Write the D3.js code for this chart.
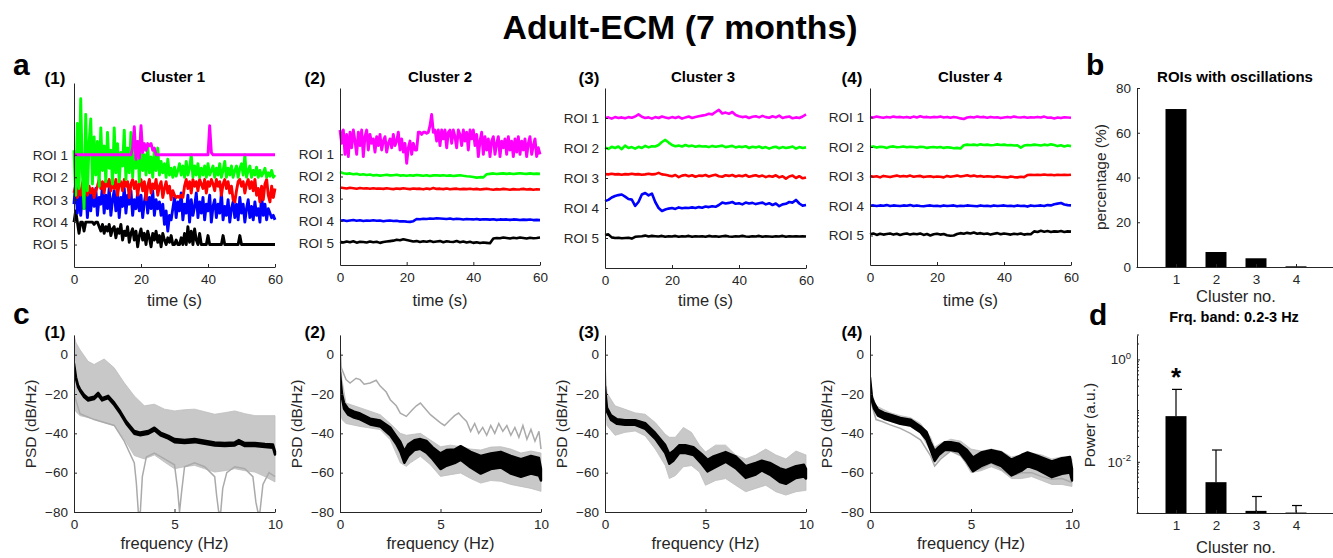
<!DOCTYPE html>
<html><head><meta charset="utf-8">
<script src="https://cdn.jsdelivr.net/npm/d3@7"></script>
<style>body{margin:0;background:#fff}svg{display:block}</style>
</head><body><svg id="fig" width="1333" height="558"></svg>
<script>
// ---------------- DATA ----------------
const roiLabels = ["ROI 1","ROI 2","ROI 3","ROI 4","ROI 5"];
const aTimeTicks = [0,20,40,60];
const cFreqTicks = [0,5,10];
const cPsdTicks = [-80,-60,-40,-20,0];
const clusterNames = ["Cluster 1","Cluster 2","Cluster 3","Cluster 4"];

// Panel a(1) traces, offset from each ROI row (row units), 0.5 s sampling
const a1Roi1 = [
0,0,0,0,0,0,0,0,0,0,
0,0,0,0,0,0,0,0,0,0,
0,0,0,0,0,0,0,0,0,0,
0,0,0,0,0,0.3,1.25,-0.2,0.6,-0.15,
1.3,0.1,0.5,0.2,0.5,0.4,0.5,0.2,0.3,0,
0,0,0,0,0,0,0,0,0,0,
0,0,0,0,0,0,0,0,0,0,
0,0,0,0,0,0,0,0,0,0,
0,1.3,0.1,0,0,0,0,0,0,0,
0,0,0,0,0,0,0,0,0,0,
0,0,0,0,0,0,0,0,0,0,
0,0,0,0,0,0,0,0,0,0,
0];
const a1Roi2 = [
1.2,-0.8,2.4,-0.5,3.5,0.2,-1.4,2.8,-0.6,1.5,
2.6,-0.3,1.8,0.1,1.6,-0.4,2.2,0.3,1.4,-0.2,
2.0,0.4,1.2,-0.3,2.2,0.2,1.5,-0.2,1.1,0.5,
2.1,-0.1,1.3,0.2,2.0,0.0,1.2,0.4,1.6,-0.2,
2.0,0.3,1.0,0.1,1.4,0.2,0.9,0.0,1.2,0.3,
1.3,0.1,0.7,0.2,0.6,0.0,0.8,0.1,0.4,0.0,
0.45,0.05,0.3,0.6,0.1,0.5,0.0,0.7,0.1,0.4,
1.0,0.0,0.5,0.1,0.6,0.0,0.4,0.1,0.5,0.0,
0.6,0.1,0.3,0.5,0.0,0.4,0.1,0.6,0.0,0.3,
0.7,0.0,0.4,0.1,0.5,0.0,0.3,0.5,0.0,0.4,
0.6,0.1,1.0,0.0,0.3,0.5,0.0,0.3,0.1,0.45,
0.0,0.3,0.05,0.2,0.4,0.0,0.2,0.05,0.3,0.0,
0.1];
const a1Roi3 = [
0.3,0.6,0.1,0.5,0.2,0.7,1.0,0.4,0.2,0.6,
0.3,0.5,0.1,0.4,0.6,0.9,0.5,0.8,0.3,0.85,
0.6,0.9,0.4,0.8,0.5,0.9,0.2,0.7,0.8,0.4,
0.9,0.6,0.8,0.1,0.7,0.9,0.5,0.8,0.2,0.7,
0.9,0.4,0.8,0.0,0.6,0.9,0.3,0.7,0.5,0.9,
0.2,0.6,0.8,0.1,0.5,0.8,0.3,0.6,0.0,0.4,
0.2,0.1,0.15,0.1,0.2,0.1,0.6,0.9,0.5,0.8,
0.3,0.9,0.6,0.8,0.4,0.9,0.7,0.5,0.9,0.3,
0.8,0.6,0.9,0.7,0.4,0.9,0.6,0.8,0.2,0.7,
0.9,0.5,0.8,0.3,0.6,0.0,-0.1,0.4,0.8,0.9,
0.6,0.8,0.3,0.7,0.9,0.5,0.8,0.4,0.9,0.2,
0.5,-0.1,0.6,0.0,0.7,0.9,0.2,-0.1,0.6,0.1,
0.5];
const a1Roi4 = [
0.8,1.8,0.4,1.5,0.3,1.2,0.6,1.6,0.2,1.3,
0.5,1.4,0.7,1.5,0.3,1.1,0.8,1.6,0.4,1.2,
0.6,1.5,0.3,1.0,1.4,0.5,1.3,0.2,1.1,0.7,
1.5,0.4,1.2,0.8,1.4,0.3,1.0,0.6,1.3,0.5,
1.2,0.2,0.9,1.3,0.4,1.1,0.6,1.4,0.3,1.0,
0.6,0.9,0.3,0.8,-0.1,0.5,-0.4,0.3,0.1,0.6,
1.1,0.2,0.9,0.5,1.3,0.1,0.8,0.4,1.2,0.0,
1.0,0.3,0.7,1.3,0.2,0.9,0.4,1.1,0.1,0.8,
0.5,1.2,0.0,0.7,1.0,0.2,0.8,0.4,1.3,0.1,
0.7,0.3,1.0,0.0,0.6,0.9,0.2,0.8,0.1,1.1,
0.4,0.8,0.0,0.6,1.0,0.2,0.7,0.1,0.9,0.3,
0.6,0.0,1.2,0.3,0.8,0.1,0.6,0.4,0.2,0.3,
0.1];
const a1Roi5 = [
1.0,1.5,1.0,0.5,1.0,1.0,0.6,1.0,1.0,1.0,
1.0,1.0,0.9,1.0,1.0,0.8,0.6,0.9,0.5,0.8,
0.6,0.9,0.4,0.7,0.8,0.3,0.7,0.5,0.9,0.2,
0.6,0.4,0.8,0.1,0.5,0.7,0.2,0.6,-0.1,0.4,
0.7,0.2,0.5,0.0,0.6,0.3,-0.1,0.5,0.2,0.6,
0.1,0.4,-0.1,0.5,0.2,0.0,0.3,0.1,0.4,0.0,
0.0,0.2,0.0,0.0,0.3,0.0,0.5,0.0,0.8,0.1,
0.6,0.0,0.7,0.2,0.0,0.5,0.0,0.0,0.0,0.0,
0.4,0.0,0.0,0.0,0.0,0.0,0.0,0.0,0.0,0.4,
0.0,0.0,0.0,0.0,0.0,0.0,0.0,0.0,0.0,0.4,
0,0,0,0,0,0,0,0,0,0,
0,0,0,0,0,0,0,0,0,0,
0];

// Panel a(2)
const a2Roi1 = [
1.1,0.5,1.1,0.0,0.9,-0.1,1.0,0.3,1.1,0.6,
0.0,1.0,0.4,1.1,-0.1,0.8,1.1,0.2,0.9,0.5,
0.7,0.1,0.8,0.4,0.9,0.2,0.6,0.8,0.1,0.5,
0.7,0.3,0.9,0.4,0.6,1.0,0.2,0.7,0.1,0.5,
-0.4,0.3,0.6,0.0,0.5,0.2,0.2,1.0,1.0,0.9,
1.0,1.0,0.95,1.0,1.3,1.8,1.0,1.1,0.6,1.1,
0.4,1.1,0.7,1.1,0.3,1.0,1.1,0.5,1.1,0.8,
0.3,1.1,0.9,0.4,1.1,0.6,1.0,0.2,1.1,0.7,
1.1,0.4,0.9,-0.1,0.6,1.0,0.0,0.8,0.2,0.7,
-0.1,0.6,0.8,0.0,0.5,0.8,-0.1,0.6,0.3,0.7,
0.0,0.8,0.2,0.6,-0.1,0.7,0.1,0.8,0.0,0.6,
0.2,0.7,-0.1,0.5,0.8,0.0,0.4,0.7,-0.1,0.3,
0.0];
const a2Roi2 = [
0.2,0.15,0.12,0.14,0.1,0.12,0.08,0.1,0.07,0.09,
0.05,0.07,0.04,0.06,0.08,0.05,0.06,0.08,0.04,0.06,
0.03,0.06,0.04,0.07,0.05,0.03,0.06,0.02,0.05,0.06,
0.04,0.06,0.03,0.05,0.02,0.04,0.06,0.03,0.01,0.0,
-0.02,-0.05,-0.03,-0.04,0.1,0.12,0.14,0.11,0.13,0.14,
0.12,0.14,0.11,0.13,0.15,0.13,0.12,0.14,0.12,0.13,0.12];
const a2Roi3 = [
0.5,0.48,0.46,0.49,0.47,0.45,0.48,0.46,0.47,0.45,
0.47,0.45,0.46,0.44,0.47,0.45,0.43,0.46,0.44,0.47,
0.45,0.43,0.46,0.44,0.45,0.42,0.46,0.43,0.48,0.44,
0.45,0.43,0.46,0.42,0.44,0.45,0.42,0.44,0.43,0.45,
0.42,0.44,0.41,0.43,0.45,0.42,0.4,0.43,0.41,0.44,
0.42,0.4,0.43,0.41,0.42,0.44,0.41,0.43,0.4,0.42,0.41];
const a2Roi4 = [
0.0,0.02,-0.01,0.01,0.03,0.0,0.02,-0.01,0.01,0.0,
0.02,0.0,0.01,-0.02,0.0,0.01,-0.01,0.0,-0.03,-0.02,
-0.04,-0.05,-0.02,0.08,0.07,0.09,0.08,0.1,0.09,0.11,
0.1,0.09,0.08,0.1,0.07,0.09,0.08,0.06,0.08,0.07,
0.06,0.08,0.05,0.07,0.06,0.05,0.07,0.04,0.06,0.05,
0.06,0.04,0.06,0.05,0.03,0.05,0.04,0.06,0.03,0.04,0.03];
const a2Roi5 = [
0.05,0.02,0.06,0.03,0.07,0.01,0.05,0.04,0.02,0.06,
0.03,0.05,0.0,0.04,0.06,0.08,0.1,0.14,0.12,0.16,
0.13,0.1,0.06,0.08,0.04,0.07,0.05,0.09,0.04,0.06,
0.08,0.03,0.07,0.05,0.04,0.08,0.03,0.06,0.02,0.05,
0.0,0.03,-0.01,0.02,0.0,-0.02,0.2,0.22,0.21,0.24,
0.22,0.2,0.23,0.21,0.24,0.22,0.2,0.23,0.21,0.22,0.24];

// Panel a(3)
const a3Roi1 = [
0.0,0.02,-0.02,0.03,0.0,0.02,-0.01,0.03,0.01,0.05,
0.12,0.04,0.0,0.02,-0.02,0.03,0.0,0.05,0.02,-0.01,
0.03,0.0,0.04,-0.02,0.02,0.05,0.0,0.03,0.06,0.08,
0.1,0.14,0.12,0.2,0.27,0.15,0.18,0.14,0.2,0.1,
0.06,0.03,0.05,0.0,0.04,0.06,0.02,0.07,0.03,0.01,
0.06,0.02,0.08,0.0,0.03,0.05,-0.01,0.02,0.0,0.05,0.12];
const a3Roi2 = [
0.02,-0.03,0.04,0.0,0.05,-0.04,0.08,0.0,0.03,-0.02,
0.04,0.0,0.07,0.02,0.06,0.05,0.1,0.2,0.27,0.18,
0.1,0.06,0.08,0.05,0.1,0.06,0.08,0.04,0.07,0.05,
0.06,0.03,0.07,0.04,0.06,0.08,0.03,0.05,0.07,0.02,
0.05,0.03,0.06,0.0,0.04,0.02,0.05,0.0,0.03,-0.02,
0.02,0.04,-0.01,0.03,0.0,0.02,0.05,-0.02,0.03,0.0,0.02];
const a3Roi3 = [
0.13,0.12,0.14,0.12,0.13,0.11,0.13,0.12,0.14,0.12,
0.13,0.11,0.12,0.14,0.12,0.13,0.17,0.12,0.11,0.08,
0.06,0.1,0.03,0.08,0.1,0.06,0.09,0.04,0.08,0.07,
0.1,0.05,0.08,0.11,0.06,0.04,0.09,0.07,0.1,0.05,
0.08,0.06,0.1,0.04,0.07,0.09,0.05,0.08,0.03,0.07,
0.04,0.09,0.02,0.06,-0.02,0.05,0.08,0.0,0.06,-0.01,0.02];
const a3Roi4 = [
0.23,0.27,0.35,0.4,0.43,0.45,0.38,0.3,0.28,0.07,
0.2,0.45,0.5,0.42,0.48,0.2,0.0,-0.1,-0.05,-0.02,
0.0,-0.03,0.02,-0.01,0.01,0.0,0.02,0.0,0.03,0.01,
0.05,0.03,0.06,0.04,0.1,0.18,0.15,0.17,0.2,0.14,
0.16,0.12,0.18,0.15,0.17,0.13,0.16,0.18,0.12,0.16,
0.1,0.15,0.06,0.12,0.14,0.2,0.18,0.27,0.15,0.08,0.1];
const a3Roi5 = [
0.1,0.12,0.02,0.0,0.01,-0.01,0.0,0.01,-0.02,0.04,
0.05,0.06,0.08,0.05,0.07,0.06,0.05,0.07,0.04,0.06,
0.05,0.07,0.04,0.06,0.05,0.07,0.04,0.06,0.05,0.06,
0.04,0.07,0.05,0.06,0.04,0.06,0.07,0.05,0.04,0.06,
0.05,0.07,0.05,0.04,0.06,0.05,0.07,0.04,0.06,0.05,
0.04,0.06,0.05,0.07,0.04,0.06,0.05,0.06,0.05,0.06,0.05];

// Panel a(4)
const a4Roi1 = [
0.02,0.0,0.03,0.01,-0.01,0.02,0.0,0.03,0.01,0.02,
0.0,0.02,-0.01,0.03,0.0,0.04,0.01,0.02,0.0,0.02,
0.01,0.03,0.0,0.02,-0.01,0.02,0.0,-0.03,-0.05,0.0,
0.02,0.0,0.03,0.01,0.02,-0.01,0.02,0.0,0.01,-0.02,
0.0,0.02,0.0,0.03,0.01,0.0,0.02,-0.01,0.01,0.0,
0.02,0.0,0.03,-0.01,0.0,-0.03,0.0,-0.02,0.01,0.0,-0.01];
const a4Roi2 = [
0.0,0.02,-0.02,0.01,0.0,-0.03,0.01,0.02,-0.01,0.0,
0.02,-0.01,0.01,0.0,-0.02,0.01,0.0,-0.03,-0.01,0.0,
-0.02,0.0,-0.03,-0.01,-0.02,-0.04,-0.03,-0.05,0.06,0.08,
0.07,0.08,0.06,0.09,0.07,0.08,0.06,0.07,0.09,0.07,
0.08,0.06,0.07,0.05,0.06,-0.02,0.05,0.07,0.06,0.08,
0.07,0.05,0.08,0.06,0.09,0.07,0.03,0.06,0.02,0.05,0.03];
const a4Roi3 = [
0.02,-0.01,0.01,-0.03,0.02,0.0,-0.02,0.01,0.03,0.0,
0.02,0.0,0.03,-0.01,0.01,0.02,-0.02,0.0,0.01,-0.02,
0.0,-0.01,-0.03,0.02,-0.01,0.01,0.03,0.0,0.02,0.04,
0.01,0.03,0.0,0.02,-0.01,0.01,0.0,-0.02,0.01,-0.01,
-0.02,-0.03,0.0,-0.02,-0.03,-0.01,-0.02,0.05,0.06,0.05,
0.06,0.05,0.07,0.05,0.06,0.04,0.06,0.05,0.06,0.05,0.06];
const a4Roi4 = [
0.01,0.02,0.0,0.02,0.01,0.03,0.0,0.02,0.01,0.0,
0.02,0.01,0.03,0.0,0.02,0.0,-0.01,0.01,0.02,0.0,
0.01,-0.01,0.02,0.0,0.01,0.02,-0.01,0.01,0.0,0.02,
0.01,0.0,-0.01,0.02,0.0,0.01,-0.01,0.02,0.0,0.01,
0.02,0.0,0.01,-0.01,0.02,0.0,0.01,-0.02,0.02,0.0,
0.01,0.02,0.0,0.03,0.02,0.06,0.08,0.1,0.05,0.03,0.02];
const a4Roi5 = [
0.04,0.07,0.02,0.06,0.03,0.05,0.07,0.03,0.06,0.02,
0.05,0.07,0.03,0.06,0.04,0.07,0.02,0.05,0.0,0.04,
0.06,0.03,0.05,0.01,-0.01,0.0,0.05,0.08,0.06,0.09,
0.07,0.1,0.06,0.08,0.05,0.07,0.03,0.06,0.08,0.04,
0.07,0.05,0.03,0.06,0.04,0.07,0.03,0.05,0.04,0.14,
0.12,0.16,0.13,0.15,0.12,0.14,0.13,0.15,0.12,0.14,0.13];

// Panel c: PSD (dB/Hz) – mean (black), its spread, grey envelope, single grey traces
const c1Freq = [0,0.05,0.1,0.2,0.3,0.5,0.7,1,1.2,1.4,1.7,2,2.3,2.6,3,3.3,3.7,4,4.3,4.7,5,5.5,6,6.5,7,7.5,8,8.2,8.5,9,9.5,9.9,10];
const c1Mean = [-5,-8.4,-12,-16,-18,-21,-22.7,-22,-20,-22.7,-21.5,-25,-29.4,-34.5,-39.5,-40.3,-39.5,-37.8,-40.3,-42,-43.7,-44.2,-43.7,-44.5,-45.4,-45.7,-45.4,-44.2,-45.7,-45.7,-46.2,-46.5,-50];
const c1Spread = [0.5,0.5,0.5,0.5,0.5,0.6,0.6,0.6,0.6,0.6,0.6,0.6,0.6,0.6,0.7,0.7,0.7,0.7,0.7,0.7,0.8,0.8,0.8,0.8,0.8,0.8,0.8,0.8,0.8,0.8,0.8,0.8,0.8];
const c1GrayFreq = [0,0.1,0.3,0.7,1,1.5,2,2.5,3,3.5,4,4.5,5,5.5,6,6.5,7,7.5,8,8.5,9,9.5,10];
const c1GrayHi = [10,6,2.5,-3.4,-5,-2.2,-6.7,-14.3,-21,-26,-25.2,-27.7,-28.6,-28,-27.7,-29,-30.3,-29.5,-28.6,-30,-31,-31,-31];
const c1GrayLo = [-27.7,-29,-31,-32,-32.8,-34.5,-36,-42.9,-51.3,-53,-51,-54.6,-58,-57,-56.3,-58,-59.7,-59,-58,-59,-59.7,-62,-64.7];
const c1NotchFreq = [0,0.3,1,2,2.5,3,3.1,3.2,3.3,3.4,3.6,4,4.5,5,5.15,5.25,5.35,5.5,6,6.5,7,7.1,7.2,7.3,7.4,7.6,8,8.5,8.9,9.05,9.15,9.25,9.4,9.7,10];
const c1NotchVal = [-20,-30,-33,-36,-44,-55,-65,-80,-80,-62,-52,-50,-53,-56,-68,-80,-70,-57,-55,-57,-62,-72,-80,-80,-68,-60,-57,-58,-62,-75,-80,-80,-66,-60,-62];

const c2Freq = [0,0.05,0.1,0.2,0.4,0.7,1,1.5,2,2.5,2.8,3,3.2,3.4,3.7,4,4.3,4.6,5,5.3,5.7,6,6.5,7,7.5,8,8.5,9,9.5,9.9,10];
const c2Mean = [-10,-16,-21,-26,-29,-30.5,-31.4,-34,-35,-39,-43.4,-46.8,-52,-48.5,-46,-45.4,-46.8,-50,-54.2,-52.5,-51.7,-50,-53.4,-56,-54.2,-53.4,-56,-57.6,-56,-57,-61];
const c2Spread = [1,1,1,1.5,1.5,1.5,1.5,1.5,1.5,2,2,2.5,3,3,2.5,2.5,3,3,4,4,3.5,3.5,4,4.5,4,4,4.5,4.5,4.5,4.5,3];
const c2GrayFreq = [0,0.05,0.1,0.3,1,2,2.5,3,3.3,3.5,4,4.5,5,5.5,6,6.5,7,7.5,8,8.5,9,9.5,10];
const c2GrayHi = [10,-4,-12.7,-24.6,-27,-30.5,-35,-40,-41,-40.7,-40,-43.4,-46.8,-46,-46.8,-48,-48.5,-47,-46.8,-48,-50,-49,-50];
const c2GrayLo = [-23,-30,-33,-35,-36.5,-38.1,-43.3,-55,-56.8,-55,-51.7,-56,-61.9,-61,-60.2,-63,-65.3,-64,-64.4,-66,-67,-68,-69.5];
const c2OutFreq = [0,0.05,0.1,0.3,0.5,0.8,1,1.2,1.5,1.8,2,2.3,2.5,2.8,3,3.3,3.6,3.8,4,4.2,4.5,4.8,5,5.2,5.5,5.7,5.9,6.1,6.3,6.5,6.7,6.9,7.1,7.3,7.5,7.7,7.9,8.1,8.3,8.5,8.7,8.9,9.1,9.3,9.5,9.7,9.9,10];
const c2OutVal = [4,-6,-7.6,-12.7,-14.4,-12,-12.7,-15,-14.4,-13,-16,-19,-22.9,-26,-29.7,-31.4,-28,-26,-24.6,-27,-30.5,-33,-34.7,-36,-33,-31,-29.7,-32,-34,-39,-35,-40,-37,-41,-36,-40,-35,-39,-36,-41,-37,-42,-36,-43,-38,-44,-39,-48];

const c3Freq = [0,0.05,0.1,0.3,0.6,1,1.5,2,2.5,3,3.2,3.4,3.7,4,4.4,4.8,5.1,5.4,6,6.5,7,7.5,7.8,8.2,8.7,9,9.5,9.9,10];
const c3Mean = [-17,-23,-28,-32,-34,-34.5,-34.5,-36.3,-41.3,-48,-53,-51.5,-48,-48,-49,-53,-56.4,-54.7,-52,-54.7,-59.7,-58,-56.4,-58,-61.3,-62.2,-59.7,-59,-60.5];
const c3Spread = [1,1,1,1.2,1.2,1.2,1.2,1.5,1.5,2,2.5,2.5,2,2,2,2.5,3,3,2.5,3,3,3,2.5,3,3.5,3.5,3,3,2.5];
const c3GrayFreq = [0,0.1,0.5,1,1.5,2,2.5,3,3.2,3.5,3.9,4.3,4.7,5,5.5,6,6.5,7,7.5,8,8.5,9,9.5,10];
const c3GrayHi = [-4,-19.5,-26,-27.8,-29.6,-30.3,-34.5,-40.5,-42,-42,-37,-39.5,-46,-49.5,-46,-46,-51,-53,-51,-48,-51,-53,-49,-51];
const c3GrayLo = [-23,-36,-41,-39.5,-38.8,-41.3,-48,-56.4,-63,-61.5,-57,-56.4,-59.7,-66.4,-64,-63,-66.4,-69.7,-68,-66.4,-69.7,-71.4,-69.7,-69];

const c4Freq = [0,0.05,0.1,0.2,0.4,0.7,1,1.5,2,2.5,2.8,3,3.2,3.4,3.7,4,4.4,4.8,5.1,5.5,6,6.5,7,7.5,7.8,8.3,9,9.5,9.9,10];
const c4Mean = [-12.6,-17.7,-22.7,-26,-29.5,-31.1,-32,-33.7,-34.5,-38,-41.3,-46.5,-51.5,-49,-46.5,-46.5,-47.3,-51.5,-55.8,-53.2,-51.5,-53.2,-57.4,-55,-53.2,-55,-58.3,-56.6,-56,-61];
const c4Spread = [1,1,1,1.5,1.5,1.5,1.5,1.5,1.5,1.5,2,2,2.5,2,2,2,2,3,3.5,3.5,3,3.5,4,4,3.5,3.5,4,4,4,3];
const c4GrayFreq = [0,0.1,0.3,1,1.5,2,2.5,3,3.2,3.5,4,4.5,5,5.5,6,6.5,7,7.5,8,8.5,9,9.5,10];
const c4GrayHi = [-10,-20,-26,-29.5,-31,-32,-35,-42,-47,-45,-43,-44,-48,-49,-48,-49,-52,-51,-50,-51,-53,-52,-53];
const c4GrayLo = [-15,-25,-31,-34,-35.5,-36.5,-40,-49,-55,-52,-49,-51,-60,-59,-57,-59,-63,-63,-62,-64,-66,-66,-67];
const c4LowFreq = [0,0.1,0.3,0.6,1,1.5,2,2.5,3,3.2,3.5,4,4.5,5,5.5,6,6.5,7,7.5,8,8.5,9,9.5,10];
const c4LowVal = [-14,-26,-33,-34,-35.7,-37.5,-40,-43.3,-51.5,-56.6,-53,-49,-51.5,-58.3,-58,-55,-58.3,-61.7,-60,-60,-62,-63.4,-63,-65];

// Panels b and d
const clusterNo = [1,2,3,4];
const oscPercent = [70.6,6.7,3.9,0.3];
const bandPower = [0.078,0.004,0.0011,0.00102];
const bandPowerErrTop = [0.26,0.017,0.0021,0.0014];

// ---------------- DRAWING ----------------
const FONT = '"Liberation Sans", Arial, Helvetica, sans-serif';
const AX = '#262626';
const XLAB = 16.5, YLAB = 15.5;
const traceColors = ['#ff00ff','#00ff00','#ff0000','#0000ff','#000000'];
const svg = d3.select('#fig');

function txt(x,y,s,size,opt={}){
  const t = svg.append('text').attr('x',x).attr('y',y).text(s)
    .attr('font-family',FONT).attr('font-size',size)
    .attr('font-weight',opt.bold?'bold':'normal')
    .attr('text-anchor',opt.anchor||'middle').attr('fill',opt.fill||'#000');
  if(opt.rot){ t.attr('transform',`rotate(-90,${x},${y})`); }
  return t;
}
function styleAxis(g){
  g.selectAll('path.domain').attr('stroke',AX).attr('stroke-width',1);
  g.selectAll('.tick line').attr('stroke',AX);
  g.selectAll('.tick text').attr('fill',AX).attr('font-size',13.5).attr('font-family',FONT);
}

// Title
txt(680,39,'Adult-ECM (7 months)',33,{bold:true}).attr('textLength',355).attr('lengthAdjust','spacingAndGlyphs');
txt(13,75,'a',30,{bold:true,anchor:'start'});
txt(13,324,'c',30,{bold:true,anchor:'start'});
txt(1086,75,'b',30,{bold:true,anchor:'start'});
txt(1089,325,'d',30,{bold:true,anchor:'start'});

const aLayout = [
  {x0:74,x1:275,yT:83,yB:267,ymax:8.2,lab:55},
  {x0:340,x1:540,yT:88,yB:265,ymax:8,lab:315},
  {x0:605,x1:806,yT:88,yB:268,ymax:6,lab:589},
  {x0:870,x1:1071,yT:88,yB:265,ymax:6,lab:852}
];
const aTraces = [
  [a1Roi1,a1Roi2,a1Roi3,a1Roi4,a1Roi5],
  [a2Roi1,a2Roi2,a2Roi3,a2Roi4,a2Roi5],
  [a3Roi1,a3Roi2,a3Roi3,a3Roi4,a3Roi5],
  [a4Roi1,a4Roi2,a4Roi3,a4Roi4,a4Roi5]
];
const titleX = [173,440,703,970];

aLayout.forEach((L,p)=>{
  const x = d3.scaleLinear([0,60],[L.x0,L.x1]);
  const y = d3.scaleLinear([0,L.ymax],[L.yB,L.yT]);
  const g = svg.append('g');
  for(let k=4;k>=0;k--){
    const arr = aTraces[p][k];
    const n = arr.length;
    const base = 5-k;
    g.append('path').datum(arr)
      .attr('fill','none').attr('stroke',traceColors[k]).attr('stroke-width',n>100?2.9:2.6)
      .attr('stroke-linejoin','round')
      .attr('d',d3.line().x((d,i)=>x(i*60/(n-1))).y(d=>y(base+d)));
  }
  const gx = svg.append('g').attr('transform',`translate(0,${L.yB})`)
    .call(d3.axisBottom(x).tickValues(aTimeTicks).tickSizeInner(-3).tickSizeOuter(0).tickPadding(7));
  styleAxis(gx);
  const gy = svg.append('g').attr('transform',`translate(${L.x0},0)`)
    .call(d3.axisLeft(y).tickValues([5,4,3,2,1]).tickFormat(d=>roiLabels[5-d]).tickSizeInner(-3).tickSizeOuter(0).tickPadding(6));
  styleAxis(gy);
  txt((L.x0+L.x1)/2,306,'time (s)',XLAB,{fill:AX});
  txt(L.lab,84,`(${p+1})`,17,{bold:true});
  txt(titleX[p],82,clusterNames[p],15,{bold:true});
});

// Panels c
const cLayout = [
  {x0:74,x1:275,lab:55},{x0:340,x1:541,lab:315},{x0:605,x1:806,lab:589},{x0:870,x1:1072,lab:852}
];
const cData = [
  {f:c1Freq,m:c1Mean,s:c1Spread,gf:c1GrayFreq,gh:c1GrayHi,gl:c1GrayLo,lines:[[c1NotchFreq,c1NotchVal]]},
  {f:c2Freq,m:c2Mean,s:c2Spread,gf:c2GrayFreq,gh:c2GrayHi,gl:c2GrayLo,lines:[[c2OutFreq,c2OutVal]]},
  {f:c3Freq,m:c3Mean,s:c3Spread,gf:c3GrayFreq,gh:c3GrayHi,gl:c3GrayLo,lines:[]},
  {f:c4Freq,m:c4Mean,s:c4Spread,gf:c4GrayFreq,gh:c4GrayHi,gl:c4GrayLo,lines:[[c4LowFreq,c4LowVal]]}
];
const cYT=335, cYB=512;
cLayout.forEach((L,p)=>{
  const D = cData[p];
  const x = d3.scaleLinear([0,10],[L.x0,L.x1]);
  const y = d3.scaleLinear([-80,10],[cYB,cYT]);
  const cid = 'clipc'+p;
  svg.append('clipPath').attr('id',cid).append('rect')
    .attr('x',L.x0).attr('y',cYT).attr('width',L.x1-L.x0+2).attr('height',cYB-cYT);
  const g = svg.append('g').attr('clip-path',`url(#${cid})`);
  g.append('path').datum(D.gf.map((f,i)=>[f,D.gh[i],D.gl[i]]))
    .attr('fill','#c8c8c8').attr('stroke','#bdbdbd').attr('stroke-width',0.8)
    .attr('d',d3.area().x(d=>x(d[0])).y0(d=>y(d[2])).y1(d=>y(d[1])));
  D.lines.forEach(([fa,va])=>{
    g.append('path').datum(fa.map((f,i)=>[f,va[i]]))
      .attr('fill','none').attr('stroke','#aaaaaa').attr('stroke-width',1.5)
      .attr('d',d3.line().x(d=>x(d[0])).y(d=>y(d[1])));
  });
  g.append('path').datum(D.f.map((f,i)=>[f,D.m[i],D.s[i]]))
    .attr('fill','#000').attr('stroke','#000').attr('stroke-width',2.4).attr('stroke-linejoin','round')
    .attr('d',d3.area().x(d=>x(d[0])).y0(d=>y(d[1]-d[2])).y1(d=>y(d[1]+d[2])));
  const gx = svg.append('g').attr('transform',`translate(0,${cYB})`)
    .call(d3.axisBottom(x).tickValues(cFreqTicks).tickSizeInner(-3).tickSizeOuter(0).tickPadding(7));
  styleAxis(gx);
  const gy = svg.append('g').attr('transform',`translate(${L.x0},0)`)
    .call(d3.axisLeft(y).tickValues(cPsdTicks).tickSizeInner(-3).tickSizeOuter(0).tickPadding(6));
  styleAxis(gy);
  txt((L.x0+L.x1)/2,549,'frequency (Hz)',XLAB,{fill:AX});
  txt(L.x0-38,424,'PSD (dB/Hz)',YLAB,{fill:AX,rot:true});
  txt(L.lab,338,`(${p+1})`,17,{bold:true});
});

// Panel b
{
  const x = d3.scaleLinear([0,5],[1136,1336]);
  const y = d3.scaleLinear([0,80],[267,88]);
  svg.append('g').selectAll('rect').data(clusterNo).join('rect')
    .attr('x',d=>x(d)-10.5).attr('width',21)
    .attr('y',(d,i)=>y(oscPercent[i])).attr('height',(d,i)=>y(0)-y(oscPercent[i]))
    .attr('fill','#000');
  const gx = svg.append('g').attr('transform','translate(0,267)')
    .call(d3.axisBottom(x).tickValues(clusterNo).tickFormat(d3.format('d')).tickSizeInner(-3).tickSizeOuter(0).tickPadding(7));
  styleAxis(gx);
  const gy = svg.append('g').attr('transform','translate(1137,0)')
    .call(d3.axisLeft(y).tickValues([0,20,40,60,80]).tickSizeInner(-3).tickSizeOuter(0).tickPadding(6));
  styleAxis(gy);
  txt(1235,82,'ROIs with oscillations',15,{bold:true});
  txt(1106,177,'percentage (%)',YLAB,{fill:AX,rot:true});
  txt(1236,302,'Cluster no.',XLAB,{fill:AX});
}

// Panel d
{
  const x = d3.scaleLinear([0,5],[1136,1336]);
  const y = d3.scaleLog([1e-3,3],[513,335]);
  const g = svg.append('g');
  g.selectAll('rect').data(clusterNo).join('rect')
    .attr('x',d=>x(d)-10.5).attr('width',21)
    .attr('y',(d,i)=>y(bandPower[i])).attr('height',(d,i)=>513-y(bandPower[i]))
    .attr('fill','#000');
  clusterNo.forEach((c,i)=>{
    const cx = x(c);
    g.append('line').attr('x1',cx).attr('x2',cx).attr('y1',y(bandPower[i])).attr('y2',y(bandPowerErrTop[i]))
      .attr('stroke','#000').attr('stroke-width',1.2);
    g.append('line').attr('x1',cx-4).attr('x2',cx+6).attr('y1',y(bandPowerErrTop[i])).attr('y2',y(bandPowerErrTop[i]))
      .attr('stroke','#000').attr('stroke-width',1.2);
  });
  txt(x(1),386,'*',26,{bold:true});
  const gx = svg.append('g').attr('transform','translate(0,513)')
    .call(d3.axisBottom(x).tickValues(clusterNo).tickFormat(d3.format('d')).tickSizeInner(-3).tickSizeOuter(0).tickPadding(7));
  styleAxis(gx);
  const gy = svg.append('g').attr('transform','translate(1137,0)')
    .call(d3.axisLeft(y).tickValues([1e-2,1]).tickFormat('').tickSizeInner(-3).tickSizeOuter(0).tickPadding(6));
  styleAxis(gy);
  gy.selectAll('.tick text').each(function(d){
    const t = d3.select(this);
    t.text('10');
    t.append('tspan').attr('dy','-0.55em').attr('font-size',9.5).text(d===1?'0':'-2');
  });
  const minors = [];
  [1e-3,1e-2,1e-1,1].forEach(dec=>{ for(let m=1;m<=9;m++){ const v=dec*m; if(v>=1e-3 && v<=3 && v!==1e-2 && v!==1) minors.push(v);} });
  gy.selectAll('line.minor').data(minors).join('line').attr('class','minor')
    .attr('x1',0).attr('x2',2).attr('y1',d=>y(d)).attr('y2',d=>y(d)).attr('stroke',AX);
  txt(1234,322,'Frq. band: 0.2-3 Hz',14.5,{bold:true});
  txt(1095,425,'Power (a.u.)',YLAB,{fill:AX,rot:true});
  txt(1236,553,'Cluster no.',XLAB,{fill:AX});
}
</script></body></html>
